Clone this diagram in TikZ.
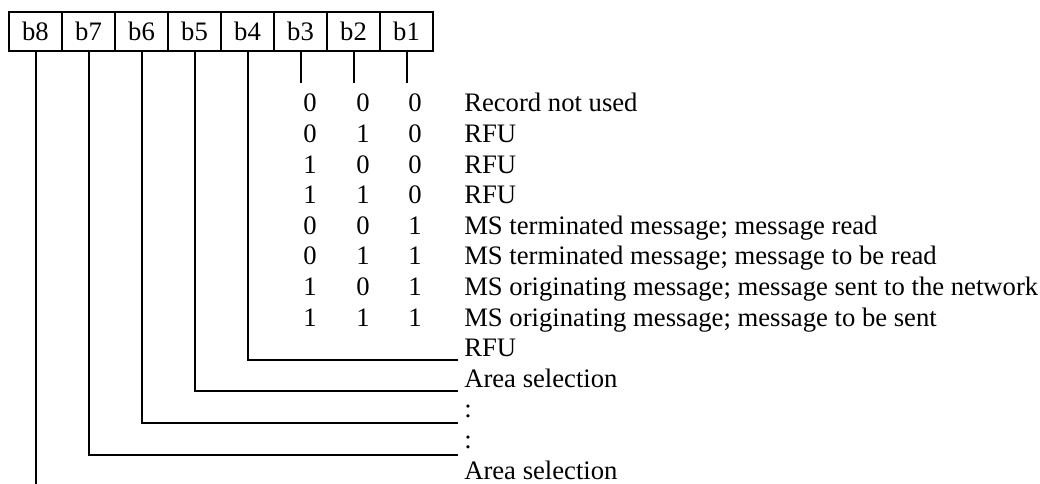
\documentclass[tikz,border=0pt]{standalone}
\usepackage{fontspec}
\setmainfont{Liberation Serif}
\begin{document}
\begin{tikzpicture}[x=0.75pt,y=-0.75pt,
  every node/.style={font=\fontsize{20}{24}\selectfont, inner sep=0pt},
  bitbox/.style={draw, line width=1.5pt, minimum width=39.75pt, minimum height=29.25pt, anchor=center},
  conn/.style={line width=1.5pt},
  lbl/.style={anchor=base west},
  dig/.style={anchor=base}]
\useasboundingbox (0,0) rectangle (1040,484);
% bit boxes
\foreach \k/\n in {0/8,1/7,2/6,3/5,4/4,5/3,6/2,7/1}{
  \node[bitbox] (b\n) at ({9+53*(\k+0.5)},31.5) {b\n};
}
% ticks for b3 b2 b1
\coordinate (t3) at (300.5,83);
\coordinate (t2) at (353.5,83);
\coordinate (t1) at (406.5,83);
\draw[conn] (b3.south) -- (t3);
\draw[conn] (b2.south) -- (t2);
\draw[conn] (b1.south) -- (t1);
% code rows
\foreach \i/\a/\b/\c/\t in {
  0/0/0/0/Record not used,
  1/0/1/0/RFU,
  2/1/0/0/RFU,
  3/1/1/0/RFU,
  4/0/0/1/{MS terminated message; message read},
  5/0/1/1/{MS terminated message; message to be read},
  6/1/0/1/{MS originating message; message sent to the network},
  7/1/1/1/{MS originating message; message to be sent}}{
  \node[dig] (da\i) at (310,{112+30.6*\i}) {\a};
  \node[dig] (db\i) at (363,{112+30.6*\i}) {\b};
  \node[dig] (dc\i) at (415,{112+30.6*\i}) {\c};
  \node[lbl] (l\i) at (464,{112+30.6*\i}) {\t};
}
\foreach \i/\t in {8/RFU,9/Area selection,10/:,11/:,12/Area selection}{
  \node[lbl] (l\i) at (464,{112+30.6*\i}) {\t};
}
% bit lines
\coordinate (e4) at (458,360);
\coordinate (e5) at (458,391.5);
\coordinate (e6) at (458,423);
\coordinate (e7) at (458,455);
\coordinate (e8) at (35.5,484);
\draw[conn] (b4.south) |- (e4);
\draw[conn] (b5.south) |- (e5);
\draw[conn] (b6.south) |- (e6);
\draw[conn] (b7.south) |- (e7);
\draw[conn] (b8.south) -- (e8);
\end{tikzpicture}
\end{document}
